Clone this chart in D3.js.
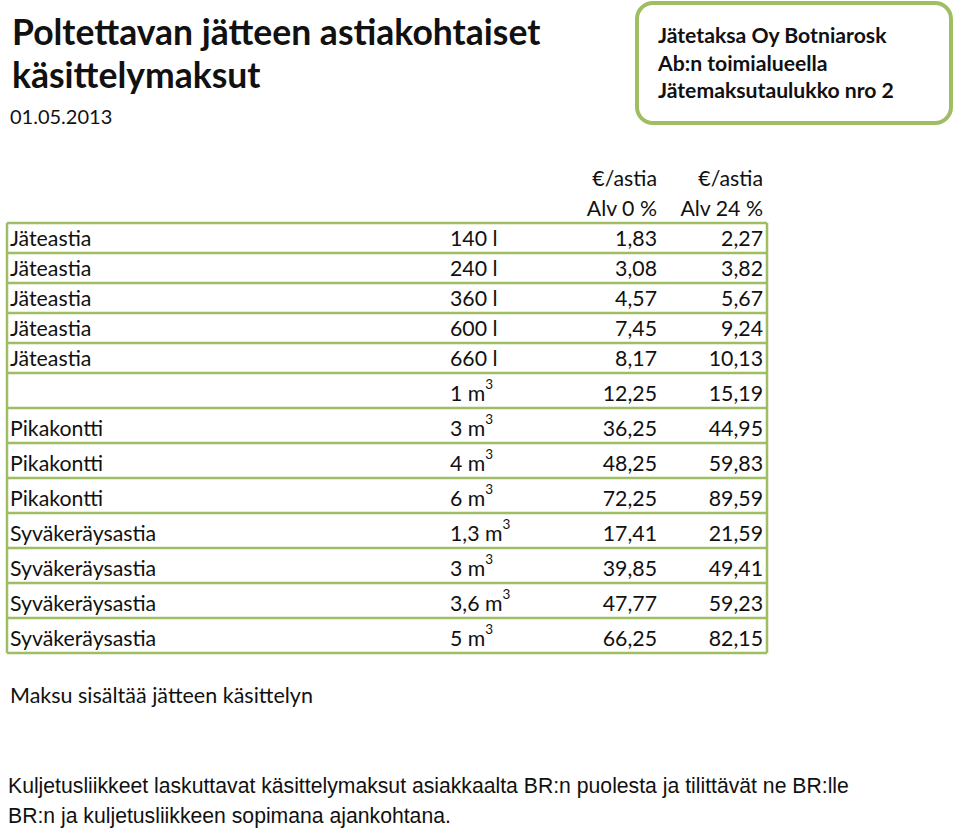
<!DOCTYPE html>
<html><head><meta charset="utf-8">
<script src="https://cdn.jsdelivr.net/npm/d3@7"></script>
<style>body{margin:0;background:#fff}svg{display:block}text{font-family:Lato,"Open Sans",sans-serif;fill:#111}</style>
</head><body><div id="c"></div>
<script>
const titleLines = ["Poltettavan jätteen astiakohtaiset", "käsittelymaksut"];
const dateText = "01.05.2013";
const boxLines = ["Jätetaksa Oy Botniarosk", "Ab:n toimialueella", "Jätemaksutaulukko nro 2"];
const headerRow1 = ["€/astia", "€/astia"];
const headerRow2 = ["Alv 0 %", "Alv 24 %"];
const types = ["Jäteastia","Jäteastia","Jäteastia","Jäteastia","Jäteastia","","Pikakontti","Pikakontti","Pikakontti","Syväkeräysastia","Syväkeräysastia","Syväkeräysastia","Syväkeräysastia"];
const sizes = ["140 l","240 l","360 l","600 l","660 l","1 m³","3 m³","4 m³","6 m³","1,3 m³","3 m³","3,6 m³","5 m³"];
const price0 = ["1,83","3,08","4,57","7,45","8,17","12,25","36,25","48,25","72,25","17,41","39,85","47,77","66,25"];
const price24 = ["2,27","3,82","5,67","9,24","10,13","15,19","44,95","59,83","89,59","21,59","49,41","59,23","82,15"];
const note1 = "Maksu sisältää jätteen käsittelyn";
const note2 = ["Kuljetusliikkeet laskuttavat käsittelymaksut asiakkaalta BR:n puolesta ja tilittävät ne BR:lle", "BR:n ja kuljetusliikkeen sopimana ajankohtana."];

const W = 960, H = 832;
const svg = d3.select("#c").append("svg").attr("width", W).attr("height", H);
const green = "#9fbd63";
const fs = "21.3px";

// Title
svg.selectAll("text.title").data(titleLines).join("text").attr("class","title")
  .attr("x", 12).attr("y", (d,i) => 45 + i*43)
  .style("font-size","35.5px").style("font-weight","700").text(d => d);
svg.append("text").attr("x", 10).attr("y", 124).style("font-size","20px").text(dateText);

// Box
svg.append("rect").attr("x", 637).attr("y", 3).attr("width", 314).attr("height", 120)
  .attr("rx", 16).attr("fill", "#fff").attr("stroke", green).attr("stroke-width", 4);
svg.selectAll("text.box").data(boxLines).join("text").attr("class","box")
  .attr("x", 658).attr("y", (d,i) => 43 + i*27.5)
  .style("font-size","21.2px").style("font-weight","700").text(d => d);

// Table scales
const n = types.length;
const y = d3.scaleLinear().domain([0, 5, n]).range([223, 373, 653]);
const x = d3.scaleOrdinal().domain(["type","size","p0","p24"]).range([10, 450, 657, 763]);
const left = 7, right = 767;

// Header
const hdr = svg.append("g");
[headerRow1, headerRow2].forEach((row, r) => {
  hdr.selectAll(null).data(row).join("text")
    .attr("x", (d,i) => x(i ? "p24" : "p0")).attr("y", 186 + r*30)
    .attr("text-anchor","end").style("font-size",fs).text(d => d);
});

// Row lines
const rowsIdx = d3.range(n);
svg.append("g").selectAll("line").data(d3.range(n+1)).join("line")
  .attr("x1", left).attr("x2", right).attr("y1", d => y(d)).attr("y2", d => y(d))
  .attr("stroke", green).attr("stroke-width", 2.5);
svg.append("g").selectAll("line").data([left, right]).join("line")
  .attr("x1", d => d).attr("x2", d => d).attr("y1", y(0)).attr("y2", y(n))
  .attr("stroke", green).attr("stroke-width", 2.5);

const rows = svg.append("g").selectAll("g").data(rowsIdx).join("g");
const base = i => y(i+1) - 7;
rows.append("text").attr("x", x("type")).attr("y", base).style("font-size",fs).text(i => types[i]);
rows.append("text").attr("x", x("size")).attr("y", base).style("font-size",fs)
  .each(function(i){
    const s = sizes[i];
    const t = d3.select(this);
    if (s.endsWith("³")) {
      t.append("tspan").text(s.slice(0,-1));
      t.append("tspan").attr("dy", -12).style("font-size","13.5px").text("3");
    } else t.text(s);
  });
rows.append("text").attr("x", x("p0")).attr("y", base).attr("text-anchor","end").style("font-size",fs).text(i => price0[i]);
rows.append("text").attr("x", x("p24")).attr("y", base).attr("text-anchor","end").style("font-size",fs).text(i => price24[i]);

// Notes
svg.append("text").attr("x", 10).attr("y", 703).style("font-size","21.5px").text(note1);
svg.selectAll("text.note2").data(note2).join("text").attr("class","note2")
  .attr("x", 8).attr("y", (d,i) => 793 + i*30)
  .style("font-size","21.2px").style("font-family","'Liberation Sans Narrow',sans-serif").text(d => d);
</script></body></html>
